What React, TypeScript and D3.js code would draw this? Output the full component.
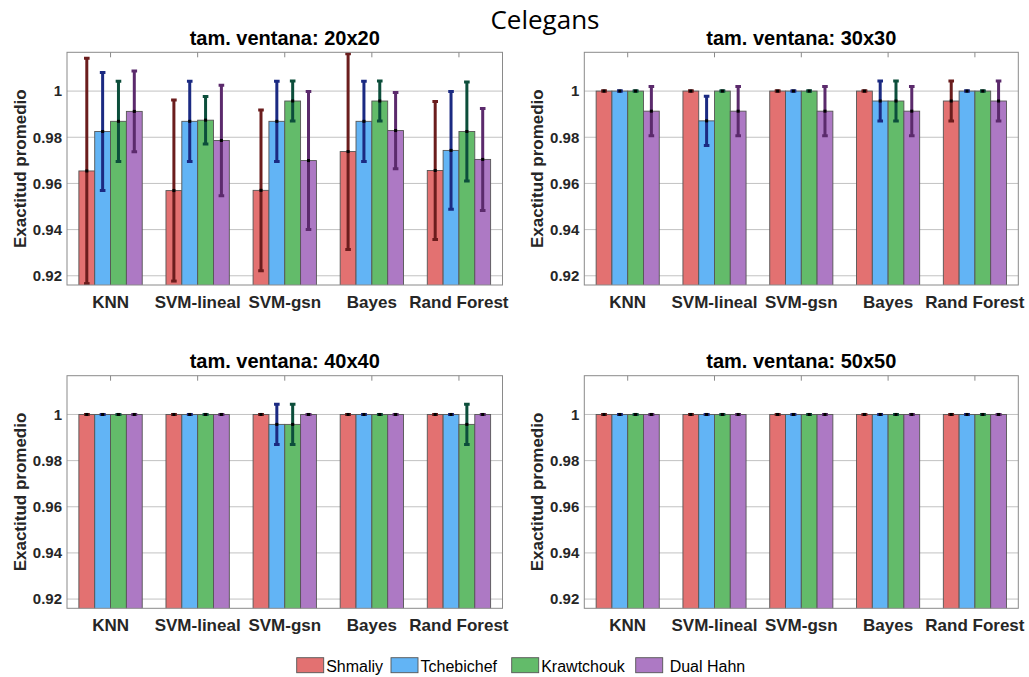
import React from "react";
import * as d3 from "d3";

const categories = ["KNN", "SVM-lineal", "SVM-gsn", "Bayes", "Rand Forest"];
const seriesNames = ["Shmaliy", "Tchebichef", "Krawtchouk", "Dual Hahn"];
const barColors = ["#e37171", "#62b4f5", "#63bb6a", "#ad79c4"];
const errColors = ["#6b1d1d", "#1b2a82", "#0c4e3b", "#5b2a6c"];
const yTicks = [0.92, 0.94, 0.96, 0.98, 1];
const yTickLabels = ["0.92", "0.94", "0.96", "0.98", "1"];
const windowTitles = ["tam. ventana: 20x20", "tam. ventana: 30x30", "tam. ventana: 40x40", "tam. ventana: 50x50"];

// rows = categories, columns = series
const means20 = [
  [0.9654, 0.9825, 0.9869, 0.9912],
  [0.9569, 0.9869, 0.9874, 0.9786],
  [0.957, 0.9869, 0.9957, 0.9699],
  [0.9738, 0.9869, 0.9957, 0.9829],
  [0.9656, 0.9743, 0.9825, 0.9704],
];
const errs20 = [
  [0.0488, 0.0256, 0.0174, 0.0175],
  [0.0392, 0.0174, 0.0103, 0.0239],
  [0.0348, 0.0174, 0.0087, 0.0299],
  [0.0424, 0.0174, 0.0087, 0.0165],
  [0.0299, 0.0255, 0.0214, 0.0221],
];
const means30 = [
  [1, 1, 1, 0.9913],
  [1, 0.9871, 1, 0.9913],
  [1, 1, 1, 0.9913],
  [1, 0.9957, 0.9957, 0.9913],
  [0.9957, 1, 1, 0.9957],
];
const errs30 = [
  [0, 0, 0, 0.0107],
  [0, 0.0107, 0, 0.0107],
  [0, 0, 0, 0.0107],
  [0, 0.0087, 0.0087, 0.0107],
  [0.0087, 0, 0, 0.0087],
];
const means40 = [
  [1, 1, 1, 1],
  [1, 1, 1, 1],
  [1, 0.9957, 0.9957, 1],
  [1, 1, 1, 1],
  [1, 1, 0.9957, 1],
];
const errs40 = [
  [0, 0, 0, 0],
  [0, 0, 0, 0],
  [0, 0.0087, 0.0087, 0],
  [0, 0, 0, 0],
  [0, 0, 0.0087, 0],
];
const means50 = [
  [1, 1, 1, 1],
  [1, 1, 1, 1],
  [1, 1, 1, 1],
  [1, 1, 1, 1],
  [1, 1, 1, 1],
];
const errs50 = [
  [0, 0, 0, 0],
  [0, 0, 0, 0],
  [0, 0, 0, 0],
  [0, 0, 0, 0],
  [0, 0, 0, 0],
];

const panelMeans = [means20, means30, means40, means50];
const panelErrs = [errs20, errs30, errs40, errs50];

const W = 1029;
const H = 677;
const yDomain: [number, number] = [0.916, 1.0168];
const panelBoxes = [
  { x0: 67, x1: 502.5, y0: 52.3, y1: 285 },
  { x0: 584.3, x1: 1018.3, y0: 52.3, y1: 285 },
  { x0: 67, x1: 502.5, y0: 375.7, y1: 608.3 },
  { x0: 584.3, x1: 1018.3, y0: 375.7, y1: 608.3 },
];

const boldFont = "'Liberation Sans', Arial, Helvetica, sans-serif";

function Panel({ idx }: { idx: number }) {
  const b = panelBoxes[idx];
  const means = panelMeans[idx];
  const errs = panelErrs[idx];
  const groupW = 4 / (4 + 1.5);
  const x = d3
    .scaleBand<string>()
    .domain(categories)
    .range([b.x0, b.x1])
    .paddingInner(1 - groupW)
    .paddingOuter((1 - groupW) / 2);
  const xs = d3.scaleBand<string>().domain(seriesNames).range([0, x.bandwidth()]).padding(0);
  const y = d3.scaleLinear().domain(yDomain).range([b.y1, b.y0]);
  const clipId = `clip${idx}`;
  const cx = (b.x0 + b.x1) / 2;
  const cy = (b.y0 + b.y1) / 2;
  return (
    <g>
      <defs>
        <clipPath id={clipId}>
          <rect x={b.x0} y={b.y0} width={b.x1 - b.x0} height={b.y1 - b.y0} />
        </clipPath>
      </defs>
      <rect x={b.x0} y={b.y0} width={b.x1 - b.x0} height={b.y1 - b.y0} fill="#fff" />
      {yTicks.map((t) => (
        <line key={t} x1={b.x0} x2={b.x1} y1={y(t)} y2={y(t)} stroke="#c2c2c2" strokeWidth={1} />
      ))}
      {categories.map((c) => {
        const xc = (x(c) as number) + x.bandwidth() / 2;
        return <line key={c} x1={xc} x2={xc} y1={b.y0} y2={b.y0 + 5} stroke="#8a8a8a" strokeWidth={1} />;
      })}
      <g clipPath={`url(#${clipId})`}>
        {categories.map((c, ci) =>
          seriesNames.map((s, si) => {
            const bx = (x(c) as number) + (xs(s) as number);
            const v = means[ci][si];
            return (
              <rect
                key={c + s}
                x={bx}
                y={y(v)}
                width={xs.bandwidth()}
                height={b.y1 - y(v) + 2}
                fill={barColors[si]}
                stroke="#555"
                strokeWidth={0.9}
              />
            );
          })
        )}
        {categories.map((c, ci) =>
          seriesNames.map((s, si) => {
            const xc = (x(c) as number) + (xs(s) as number) + xs.bandwidth() / 2;
            const v = means[ci][si];
            const e = errs[ci][si];
            const yt = y(v + e);
            const yb = y(v - e);
            return (
              <g key={"e" + c + s}>
                <line x1={xc} x2={xc} y1={yt} y2={yb} stroke={errColors[si]} strokeWidth={3} />
                <line x1={xc - 2.8} x2={xc + 2.8} y1={yt} y2={yt} stroke={errColors[si]} strokeWidth={3} />
                <line x1={xc - 2.8} x2={xc + 2.8} y1={yb} y2={yb} stroke={errColors[si]} strokeWidth={3} />
                <rect x={xc - 1.5} y={y(v) - 1.5} width={3} height={3} fill="#000" />
              </g>
            );
          })
        )}
      </g>
      <rect x={b.x0} y={b.y0} width={b.x1 - b.x0} height={b.y1 - b.y0} fill="none" stroke="#8a8a8a" strokeWidth={1} />
      {yTicks.map((t, i) => (
        <text
          key={"yl" + t}
          x={b.x0 - 5}
          y={y(t)}
          dy="0.36em"
          textAnchor="end"
          fontFamily={boldFont}
          fontWeight="bold"
          fontSize={15}
          fill="#262626"
        >
          {yTickLabels[i]}
        </text>
      ))}
      {categories.map((c) => {
        const xc = (x(c) as number) + x.bandwidth() / 2;
        return (
          <text
            key={"xl" + c}
            x={xc}
            y={b.y1 + 23}
            textAnchor="middle"
            fontFamily={boldFont}
            fontWeight="bold"
            fontSize={17}
            fill="#262626"
          >
            {c}
          </text>
        );
      })}
      <text
        transform={`translate(${b.x0 - 41},${cy}) rotate(-90)`}
        textAnchor="middle"
        fontFamily={boldFont}
        fontWeight="bold"
        fontSize={17}
        fill="#262626"
      >
        Exactitud promedio
      </text>
      <text
        x={cx}
        y={b.y0 - 7.3}
        textAnchor="middle"
        fontFamily={boldFont}
        fontWeight="bold"
        fontSize={20}
        fill="#000"
      >
        {windowTitles[idx]}
      </text>
    </g>
  );
}

const legendX = [296.7, 391, 511.7, 635.7];
const legendLabels = ["Shmaliy", "Tchebichef", "Krawtchouk", " Dual Hahn"];

export default function App() {
  return (
    <svg
      width={W}
      height={H}
      style={{ position: "absolute", left: 0, top: 0, background: "#fff" }}
      xmlns="http://www.w3.org/2000/svg"
    >
      <rect width={W} height={H} fill="#fff" />
      <text x={545} y={29} textAnchor="middle" fontFamily="'Open Sans', sans-serif" fontSize={26} fill="#000">
        Celegans
      </text>
      {[0, 1, 2, 3].map((i) => (
        <Panel key={i} idx={i} />
      ))}
      {seriesNames.map((s, i) => (
        <g key={s}>
          <rect x={legendX[i]} y={657.7} width={27} height={15} fill={barColors[i]} stroke="#555" strokeWidth={0.9} />
          <text
            x={legendX[i] + 29.5}
            y={672}
            fontFamily={boldFont}
            fontSize={16}
            fill="#000"
            style={{ whiteSpace: "pre" }}
          >
            {legendLabels[i]}
          </text>
        </g>
      ))}
    </svg>
  );
}
